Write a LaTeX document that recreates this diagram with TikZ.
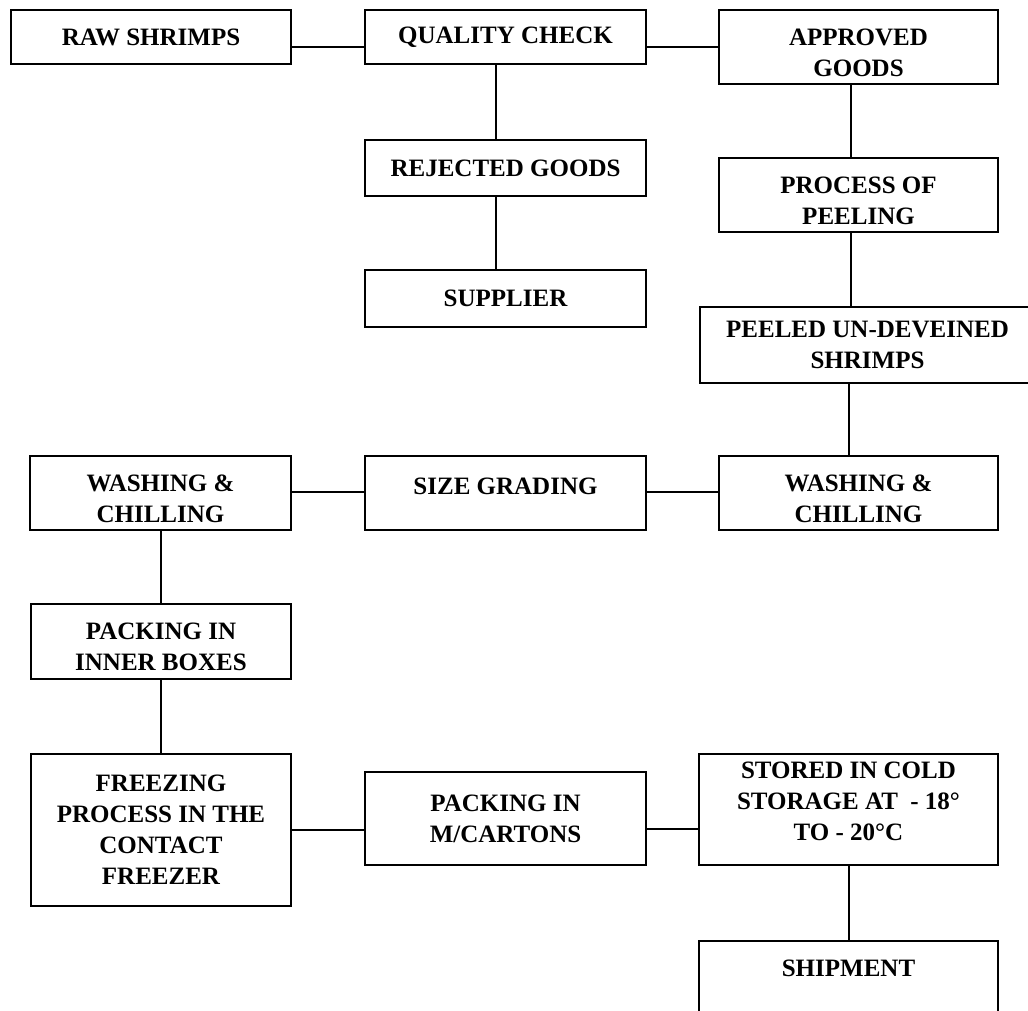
\documentclass[tikz,border=0pt]{standalone}
\usepackage{fontspec}
\setmainfont{Liberation Serif}
\newcommand\dnshift{\rule{0pt}{28pt}}
\newcommand\upshift{\rule[-14pt]{0pt}{14pt}}
\begin{document}
\begin{tikzpicture}[x=1pt,y=-1pt,
  box/.style={draw, line width=1.3pt, inner sep=0pt, align=center,
    font=\bfseries\fontsize{25}{31}\selectfont},
  txt/.style={inner sep=0pt, align=center, font=\bfseries\fontsize{25}{31}\selectfont},
  conn/.style={line width=1.1pt}]
\clip (0,0) rectangle (1028,1010);
\fill[white] (0,0) rectangle (1028,1010);
% row 1
\node[box, minimum width=280pt, minimum height=54pt] (raw) at (151,37) {RAW SHRIMPS};
\node[box, minimum width=281pt, minimum height=54pt] (qc) at (505.5,37) {QUALITY CHECK};
\node[box, minimum width=279pt, minimum height=74pt] (app) at (858.5,47) {\dnshift APPROVED\\GOODS};
% reject branch
\node[box, minimum width=281pt, minimum height=56pt] (rej) at (505.5,168) {REJECTED GOODS};
\node[box, minimum width=281pt, minimum height=57pt] (sup) at (505.5,298.5) {SUPPLIER};
% right column
\node[box, minimum width=279pt, minimum height=74pt] (peel) at (858.5,195) {\dnshift PROCESS OF\\PEELING};
\node[box, minimum width=335pt, minimum height=76pt] (pud) at (867.5,345) {PEELED UN-DEVEINED\\SHRIMPS};
\node[box, minimum width=279pt, minimum height=74pt] (wcr) at (858.5,493) {\dnshift WASHING \&\\CHILLING};
% middle row
\node[box, minimum width=281pt, minimum height=74pt] (sg) at (505.5,493) {\upshift SIZE GRADING};
\node[box, minimum width=261pt, minimum height=74pt] (wcl) at (160.5,493) {\dnshift WASHING \&\\CHILLING};
% left column
\node[box, minimum width=260pt, minimum height=75pt] (pib) at (161,641.5) {\dnshift PACKING IN\\INNER BOXES};
\node[box, minimum width=260pt, minimum height=152pt] (frz) at (161,830) {FREEZING\\PROCESS IN THE\\CONTACT\\FREEZER};
% bottom row
\node[box, minimum width=281pt, minimum height=93pt] (pmc) at (505.5,818.5) {PACKING IN\\M/CARTONS};
\node[box, minimum width=299pt, minimum height=111pt] (sto) at (848.5,809.5) {};
\node[txt] (stotext) at (848.5,801) {STORED IN COLD\\STORAGE AT \ - 18°\\TO - 20°C};
\node[box, minimum width=299pt, minimum height=100pt] (shp) at (848.5,991) {};
\node[txt] (shptext) at (848.5,968) {SHIPMENT};
% connectors
\draw[conn] (raw.east |- 0,47) -- (qc.west |- 0,47);
\draw[conn] (qc.east |- 0,47) -- (app.west |- 0,47);
\draw[conn] (qc.south -| 496,0) -- (rej.north -| 496,0);
\draw[conn] (rej.south -| 496,0) -- (sup.north -| 496,0);
\draw[conn] (app.south -| 851,0) -- (peel.north -| 851,0);
\draw[conn] (peel.south -| 851,0) -- (pud.north -| 851,0);
\draw[conn] (pud.south -| 849,0) -- (wcr.north -| 849,0);
\draw[conn] (wcr.west |- 0,492) -- (sg.east |- 0,492);
\draw[conn] (sg.west |- 0,492) -- (wcl.east |- 0,492);
\draw[conn] (wcl.south -| 161,0) -- (pib.north -| 161,0);
\draw[conn] (pib.south -| 161,0) -- (frz.north -| 161,0);
\draw[conn] (frz.east |- 0,830) -- (pmc.west |- 0,830);
\draw[conn] (pmc.east |- 0,829) -- (sto.west |- 0,829);
\draw[conn] (sto.south -| 849,0) -- (shp.north -| 849,0);
\end{tikzpicture}
\end{document}
